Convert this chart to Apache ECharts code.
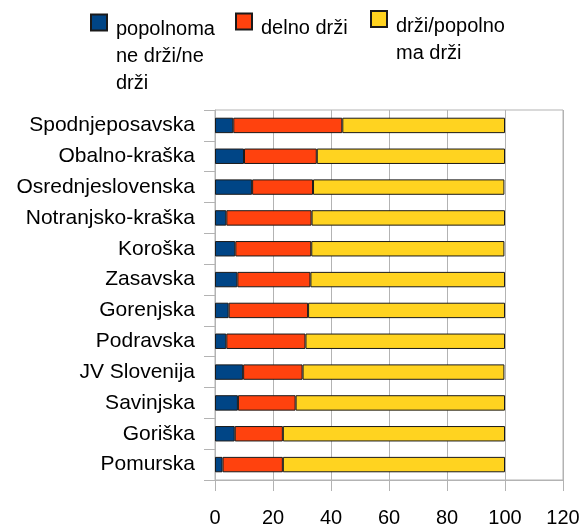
<!DOCTYPE html>
<html>
<head>
<meta charset="utf-8">
<script src="https://cdn.jsdelivr.net/npm/echarts@6/dist/echarts.min.js"></script>
<style>
  html, body { margin: 0; padding: 0; background: #fff; }
  #chart { width: 583px; height: 528px; }
</style>
</head>
<body>
<div id="chart"></div>
<script>
const regions = [
  "Spodnjeposavska", "Obalno-kraška", "Osrednjeslovenska", "Notranjsko-kraška",
  "Koroška", "Zasavska", "Gorenjska", "Podravska",
  "JV Slovenija", "Savinjska", "Goriška", "Pomurska"
];
const seriesNames = ["popolnoma ne drži/ne drži", "delno drži", "drži/popolnoma drži"];
const legendLines = [["popolnoma", "ne drži/ne", "drži"], ["delno drži"], ["drži/popolno", "ma drži"]];
const notHolding = [6.3, 10.0, 12.8, 3.9, 7.0, 7.7, 4.7, 3.9, 9.7, 7.9, 6.8, 2.6];
const partly = [37.6, 25.1, 21.0, 29.4, 26.2, 25.2, 27.4, 27.3, 20.5, 19.9, 16.6, 20.8];
const holding = [56.1, 64.9, 66.0, 66.7, 66.6, 67.1, 67.9, 68.8, 69.6, 72.2, 76.6, 76.6];
const xTicks = [0, 20, 40, 60, 80, 100, 120];

const colors = ["#004586", "#ff420e", "#ffd320"];
const font = "Liberation Sans";
const grey = "#b3b3b3";

const chart = echarts.init(document.getElementById("chart"));

// spacer line heights push the first text line next to the square
const legendPos = [
  { left: 90, top: -37, spacer: 34 },
  { left: 235, top: 6, spacer: 14 },
  { left: 370, top: -10, spacer: 41 },
];

chart.setOption({
  animation: false,
  legend: seriesNames.map((name, i) => ({
    data: [name],
    left: legendPos[i].left,
    top: legendPos[i].top,
    padding: 0,
    itemWidth: 16,
    itemHeight: 16,
    icon: "rect",
    selectedMode: false,
    formatter: () => {
      const n = legendLines[i].length === 3 ? 2 : 1;
      const pre = Array(n).fill("{e| }").join("\n");
      return pre + "\n" + legendLines[i].map((s) => "{t|" + s + "}").join("\n");
    },
    textStyle: {
      padding: [0, 0, 0, 4],
      rich: {
        t: { fontFamily: font, fontSize: 20, color: "#000", lineHeight: 27 },
        e: { fontFamily: font, fontSize: 4, lineHeight: legendPos[i].spacer },
      },
    },
  })),
  grid: {
    left: 215, right: 20, top: 110, bottom: 43,
    show: true, borderColor: grey, borderWidth: 1,
  },
  xAxis: {
    type: "value",
    min: 0, max: 120, interval: 20,
    axisLine: { show: true, lineStyle: { color: grey } },
    axisTick: { show: true, length: 11, lineStyle: { color: grey } },
    splitLine: { show: true, lineStyle: { color: grey } },
    axisLabel: {
      fontFamily: font, fontSize: 20, color: "#000", margin: 28,
      formatter: (v) => (xTicks.includes(v) ? String(v) : ""),
    },
  },
  yAxis: {
    type: "category",
    data: regions,
    inverse: true,
    axisLine: { show: true, lineStyle: { color: grey } },
    axisTick: { show: true, length: 11, lineStyle: { color: grey } },
    axisLabel: { fontFamily: font, fontSize: 21, color: "#000", margin: 20 },
  },
  series: [notHolding, partly, holding].map((data, i) => ({
    name: seriesNames[i],
    type: "bar",
    stack: "total",
    barWidth: "50%",
    data: data,
    itemStyle: { color: colors[i], borderColor: "#1a1a1a", borderWidth: 1 },
  })),
});
</script>
</body>
</html>
